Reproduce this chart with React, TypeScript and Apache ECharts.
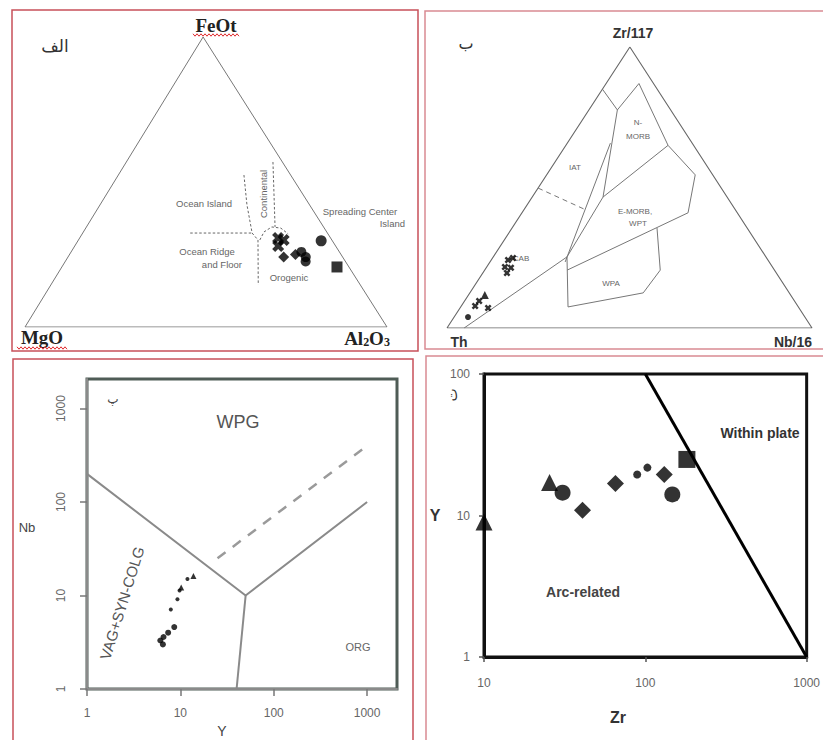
import React, { useEffect, useRef } from "react";
import * as echarts from "echarts";

// ---------- Panel الف : FeOt – MgO – Al2O3 ternary; points as [FeOt %, Al2O3 %] (MgO = remainder)
const afmCrosses = [[30.7, 54.8], [30.0, 56.7], [27.9, 56.2]];
const afmDiamonds = [[24.1, 59.6], [25.0, 62.4]];
const afmCircles = [[25.9, 63.6], [24.1, 65.7], [22.6, 66.4]];
const afmBigCircles = [[29.7, 67.2]];
const afmSquares = [[20.7, 76.0]];
const afmDashed = [
  [[32.4, 29.7], [32.4, 46.8]],
  [[52.4, 34.7], [42.1, 40.6], [32.4, 46.8]],
  [[32.4, 46.8], [30.0, 49.6], [14.5, 57.3]],
  [[56.9, 40.5], [34.5, 52.1]],
  [[30.0, 50.1], [32.8, 49.9], [34.5, 51.2], [34.1, 53.9], [32.1, 56.9]],
];

// ---------- Panel ب : Th – Zr/117 – Nb/16 ternary; points as [Zr/117 %, Nb/16 %] (Th = remainder)
const woodCrosses = [[24.2, 4.6], [24.9, 5.6], [21.7, 5.0], [21.4, 6.8], [19.6, 6.6], [9.6, 4.0], [7.8, 3.8], [7.1, 7.7]];
const woodTriangles = [[11.7, 4.5]];
const woodCircles = [[3.9, 3.8]];
const woodFieldLines = [
  [[85, 0], [77.6, 7.8]],
  [[77.6, 7.8], [87, 9], [65, 28], [54.5, 40.7], [41, 45.5], [20.6, 22.6]],
  [[77.6, 7.8], [46.6, 19.4], [25.3, 20.2]],
  [[65.8, 11.8], [23.5, 20.6]],
  [[65, 28], [46.6, 19.4]],
  [[25.3, 20.2], [0, 4.7]],
  [[25.3, 20.2], [7.5, 29.4], [12.5, 47.5], [20.6, 48.1], [35.6, 39.7]],
];
const woodDashed = [[49.8, 0], [42.3, 16.4]];

// ---------- Panel پ : Y vs Nb (log–log)
const pearceTicks = [1, 10, 100, 1000];
const pearceTriangles = [[13.8, 16.2], [10.2, 12.2]];
const pearceDots = [[11.9, 15.0], [9.8, 11.3], [9.3, 9.1], [7.9, 7.1]];
const pearceCircles = [[8.6, 4.6], [7.4, 4.0], [6.6, 3.6], [6.1, 3.3], [6.5, 3.0]];
const pearceBoundary = [[1, 200], [50, 10], [1000, 100]];
const pearceBoundary2 = [[50, 10], [40, 1]];
const pearceDashed = [[25, 25], [1000, 400]];

// ---------- Panel ت : Zr vs Y (log–log)
const zrTriangles = [[10, 9], [25.5, 17.1]];
const zrBigCircles = [[30.7, 14.5], [147, 14.1]];
const zrDiamonds = [[40.8, 10.9], [65.3, 16.8], [131, 19.5]];
const zrSmallCircles = [[89, 19.5], [103, 21.8]];
const zrSquares = [[181, 24.9]];
const zrBoundary = [[100, 100], [1000, 1]];

const APEX1 = 0.492;
const APEX2 = 0.501;
const tern = (top: number, right: number, apex: number) => [right / 100 + (top / 100) * apex, top / 100];

const XPATH = "path://M0,4 L4,0 L8,4 L12,0 L16,4 L12,8 L16,12 L12,16 L8,12 L4,16 L0,12 L4,8 Z";

const sans = "'Liberation Sans', Arial, sans-serif";
const serif = "'Liberation Serif', 'Times New Roman', serif";

function squiggle(x0: number, x1: number, y: number) {
  const pts: number[][] = [];
  let up = true;
  for (let x = x0; x <= x1; x += 2) {
    pts.push([x, up ? y - 1.2 : y + 1.2]);
    up = !up;
  }
  return { type: "polyline", shape: { points: pts }, style: { stroke: "#e0282c", lineWidth: 1, fill: null }, silent: true };
}

function txt(x: number, y: number, text: string, font: any = {}, rotation = 0) {
  return {
    type: "text",
    x,
    y,
    rotation,
    silent: true,
    style: {
      text,
      fill: font.fill || "#666",
      font: font.font || `9.5px ${sans}`,
      align: font.align || "center",
      verticalAlign: "middle",
      rich: font.rich,
    },
  };
}

export default function App() {
  const ref = useRef<HTMLDivElement>(null);
  useEffect(() => {
    if (!ref.current) return;
    const chart = echarts.init(ref.current, null, { renderer: "svg" });

    const sc = (i: number, data: any[], symbol: string, size: number, extra: any = {}) => ({
      type: "scatter",
      xAxisIndex: i,
      yAxisIndex: i,
      data,
      symbol,
      symbolSize: size,
      itemStyle: { color: "#000" },
      silent: true,
      clip: false,
      z: 5,
      ...extra,
    });
    const ln = (i: number, data: any[], color: string, width: number, type: any = "solid") => ({
      type: "line",
      xAxisIndex: i,
      yAxisIndex: i,
      data,
      symbol: "none",
      silent: true,
      lineStyle: { color, width, type },
      z: 3,
    });

    const t1 = (arr: number[][]) => arr.map((p) => tern(p[0], p[1], APEX1));
    const t2 = (arr: number[][]) => arr.map((p) => tern(p[0], p[1], APEX2));

    const hiddenAxis = (i: number) => ({ type: "value", gridIndex: i, min: 0, max: 1, show: false });
    const fmt = (v: number) => String(Math.round(v));

    const series: any[] = [
      // Panel 1
      ln(0, t1([[0, 0], [0, 100], [100, 0], [0, 0]]), "#777", 1),
      ...afmDashed.map((d) => ln(0, t1(d), "#555", 0.9, [2.5, 2])),
      sc(0, t1(afmCrosses), XPATH, 12),
      sc(0, t1(afmDiamonds), "diamond", 11),
      sc(0, t1(afmCircles), "circle", 10),
      sc(0, t1(afmBigCircles), "circle", 11),
      sc(0, t1(afmSquares), "rect", 11),
      // Panel 2
      ln(1, t2([[0, 0], [0, 100], [100, 0], [0, 0]]), "#666", 1.1),
      ...woodFieldLines.map((d) => ln(1, t2(d), "#777", 1)),
      ln(1, t2(woodDashed), "#777", 1, [5, 4]),
      sc(1, t2(woodCrosses), XPATH, 7),
      sc(1, t2(woodTriangles), "triangle", 8),
      sc(1, t2(woodCircles), "circle", 6),
      // Panel 3
      ln(2, pearceBoundary, "#8a8a8a", 2),
      ln(2, pearceBoundary2, "#8a8a8a", 2),
      ln(2, pearceDashed, "#9a9a9a", 2.5, [10, 9]),
      sc(2, pearceTriangles, "triangle", 6),
      sc(2, pearceDots, "circle", 4),
      sc(2, pearceCircles, "circle", 6),
      // Panel 4
      ln(3, zrBoundary, "#000", 3),
      sc(3, zrTriangles, "triangle", 17),
      sc(3, zrBigCircles, "circle", 16),
      sc(3, zrDiamonds, "diamond", 17),
      sc(3, zrSmallCircles, "circle", 8),
      sc(3, zrSquares, "rect", 17),
    ];

    const red = "#c8505a";
    const pink = "#d98a92";

    const graphic: any[] = [
      { type: "rect", shape: { x: 12, y: 10, width: 406, height: 341 }, style: { stroke: red, lineWidth: 1.5, fill: null }, silent: true },
      { type: "rect", shape: { x: 425, y: 11, width: 400, height: 338 }, style: { stroke: pink, lineWidth: 1.5, fill: null }, silent: true },
      { type: "rect", shape: { x: 13, y: 359, width: 400, height: 390 }, style: { stroke: red, lineWidth: 1.5, fill: null }, silent: true },
      { type: "rect", shape: { x: 426, y: 356, width: 400, height: 390 }, style: { stroke: pink, lineWidth: 1.5, fill: null }, silent: true },
      // Panel 1 texts
      txt(216, 25, "FeOt", { font: `bold 19px ${serif}`, fill: "#222" }),
      squiggle(193, 240, 35),
      txt(42, 337, "MgO", { font: `bold 19px ${serif}`, fill: "#222" }),
      squiggle(17, 68, 348),
      txt(367, 338, "{n|Al}{s|2}{n|O}{s|3}", {
        fill: "#222",
        font: `bold 19px ${serif}`,
        rich: {
          n: { font: `bold 19px ${serif}`, fill: "#222" },
          s: { font: `bold 12px ${serif}`, fill: "#222", padding: [7, 0, 0, 0] },
        },
      }),
      txt(55, 45, "الف", { font: `17px 'Noto Sans', 'DejaVu Sans', sans-serif`, fill: "#333" }),
      txt(204, 203, "Ocean Island"),
      txt(263, 194, "Continental", {}, Math.PI / 2),
      txt(360, 211, "Spreading Center"),
      txt(405, 223, "Island", { align: "right" }),
      txt(207, 251, "Ocean Ridge"),
      txt(242, 264, "and Floor", { align: "right" }),
      txt(289, 277, "Orogenic"),
      // Panel 2 texts
      txt(633, 33, "Zr/117", { font: `bold 14px ${sans}`, fill: "#333" }),
      txt(459, 342, "Th", { font: `bold 14px ${sans}`, fill: "#333" }),
      txt(793, 342, "Nb/16", { font: `bold 14px ${sans}`, fill: "#333" }),
      txt(466, 43, "ب", { font: `16px 'Noto Sans', 'DejaVu Sans', sans-serif`, fill: "#333" }),
      txt(575, 167, "IAT", { font: `8px ${sans}` }),
      txt(638, 122, "N-", { font: `8px ${sans}` }),
      txt(638, 136, "MORB", { font: `8px ${sans}` }),
      txt(635, 211, "E-MORB,", { font: `8px ${sans}` }),
      txt(638, 223, "WPT", { font: `8px ${sans}` }),
      txt(611, 283, "WPA", { font: `8px ${sans}` }),
      txt(521, 258, "CAB", { font: `8px ${sans}` }),
      // Panel 3 texts
      txt(238, 422, "WPG", { font: `18px ${sans}`, fill: "#555" }),
      txt(358, 647, "ORG", { font: `11px ${sans}`, fill: "#666" }),
      txt(122, 603, "VAG+SYN-COLG", { font: `15px ${sans}`, fill: "#555" }, 1.27),
      txt(113, 398, "پ", { font: `12px 'Noto Sans', 'DejaVu Sans', sans-serif`, fill: "#444" }),
      txt(27, 527, "Nb", { font: `13px ${sans}`, fill: "#444" }),
      txt(222, 731, "Y", { font: `14px ${sans}`, fill: "#444" }),
      // Panel 4 texts
      txt(760, 433, "Within plate", { font: `bold 14px ${sans}`, fill: "#333" }),
      txt(583, 592, "Arc-related", { font: `bold 14px ${sans}`, fill: "#444" }),
      txt(451, 395, "ت", { font: `14px 'Noto Sans', 'DejaVu Sans', sans-serif`, fill: "#333" }, Math.PI / 2),
      txt(435, 515, "Y", { font: `bold 16px ${sans}`, fill: "#333" }),
      txt(618, 717, "Zr", { font: `bold 16px ${sans}`, fill: "#333" }),
    ];

    chart.setOption({
      animation: false,
      backgroundColor: "#fff",
      grid: [
        { left: 25, top: 37, width: 362, height: 290 },
        { left: 447, top: 47, width: 365, height: 281 },
        { left: 87, top: 379, width: 310, height: 310, show: true, borderColor: "#4f5c56", borderWidth: 3, backgroundColor: "transparent" },
        { left: 484, top: 374, width: 324, height: 283, show: true, borderColor: "#111", borderWidth: 3, backgroundColor: "transparent" },
      ],
      xAxis: [
        hiddenAxis(0),
        hiddenAxis(1),
        {
          type: "log",
          gridIndex: 2,
          min: 1,
          max: 2090,
          axisLine: { lineStyle: { color: "#8a8a8a", width: 2 } },
          axisTick: { customValues: pearceTicks, length: 7, lineStyle: { color: "#777", width: 1.5 } },
          axisLabel: { customValues: pearceTicks, formatter: fmt, color: "#666", fontSize: 12, margin: 18, fontFamily: sans },
          splitLine: { show: false },
        },
        {
          type: "log",
          gridIndex: 3,
          min: 10,
          max: 1000,
          axisLine: { lineStyle: { color: "#111", width: 3 } },
          axisTick: { length: 5, lineStyle: { color: "#555", width: 1.5 } },
          axisLabel: { formatter: fmt, color: "#666", fontSize: 12, margin: 20, fontFamily: sans },
          splitLine: { show: false },
        },
      ],
      yAxis: [
        hiddenAxis(0),
        hiddenAxis(1),
        {
          type: "log",
          gridIndex: 2,
          min: 1,
          max: 2070,
          axisLine: { lineStyle: { color: "#8a8a8a", width: 2 } },
          axisTick: { customValues: pearceTicks, length: 7, lineStyle: { color: "#777", width: 1.5 } },
          axisLabel: { customValues: pearceTicks, formatter: fmt, color: "#666", fontSize: 12, margin: 20, rotate: 90, fontFamily: sans },
          splitLine: { show: false },
        },
        {
          type: "log",
          gridIndex: 3,
          min: 1,
          max: 100,
          axisLine: { lineStyle: { color: "#111", width: 3 } },
          axisTick: { length: 5, lineStyle: { color: "#555", width: 1.5 } },
          axisLabel: { formatter: fmt, color: "#666", fontSize: 12, margin: 14, fontFamily: sans },
          splitLine: { show: false },
        },
      ],
      series,
      graphic,
    });
    return () => chart.dispose();
  }, []);
  return <div ref={ref} style={{ position: "absolute", left: 0, top: 0, width: 823, height: 740 }} />;
}
